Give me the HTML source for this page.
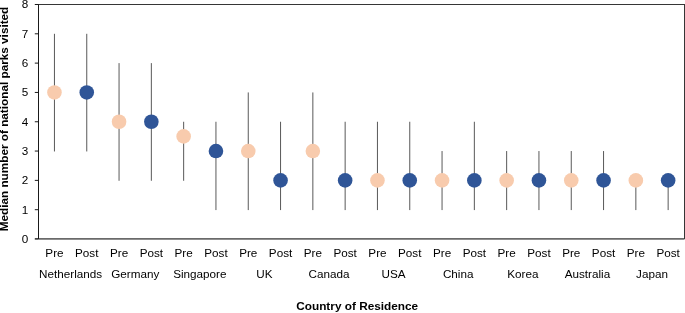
<!DOCTYPE html>
<html><head><meta charset="utf-8"><title>chart</title>
<style>
html,body{margin:0;padding:0;background:#fff;}
svg{display:block;font-family:"Liberation Sans",Arial,sans-serif;}
text{fill:#000;}
</style></head><body>
<svg width="685" height="313" viewBox="0 0 685 313">
<rect width="685" height="313" fill="#fff"/>

<line x1="54.45" x2="54.45" y1="33.81" y2="151.46" stroke="#595959" stroke-width="1"/>
<line x1="86.75" x2="86.75" y1="33.81" y2="151.46" stroke="#595959" stroke-width="1"/>
<line x1="119.05" x2="119.05" y1="63.12" y2="180.78" stroke="#595959" stroke-width="1"/>
<line x1="151.35" x2="151.35" y1="63.12" y2="180.78" stroke="#595959" stroke-width="1"/>
<line x1="183.65" x2="183.65" y1="121.75" y2="180.78" stroke="#595959" stroke-width="1"/>
<line x1="215.95" x2="215.95" y1="121.75" y2="210.09" stroke="#595959" stroke-width="1"/>
<line x1="248.25" x2="248.25" y1="92.44" y2="210.09" stroke="#595959" stroke-width="1"/>
<line x1="280.55" x2="280.55" y1="121.75" y2="210.09" stroke="#595959" stroke-width="1"/>
<line x1="312.85" x2="312.85" y1="92.44" y2="210.09" stroke="#595959" stroke-width="1"/>
<line x1="345.15" x2="345.15" y1="121.75" y2="210.09" stroke="#595959" stroke-width="1"/>
<line x1="377.45" x2="377.45" y1="121.75" y2="210.09" stroke="#595959" stroke-width="1"/>
<line x1="409.75" x2="409.75" y1="121.75" y2="210.09" stroke="#595959" stroke-width="1"/>
<line x1="442.05" x2="442.05" y1="151.06" y2="210.09" stroke="#595959" stroke-width="1"/>
<line x1="474.35" x2="474.35" y1="121.75" y2="210.09" stroke="#595959" stroke-width="1"/>
<line x1="506.65" x2="506.65" y1="151.06" y2="210.09" stroke="#595959" stroke-width="1"/>
<line x1="538.95" x2="538.95" y1="151.06" y2="210.09" stroke="#595959" stroke-width="1"/>
<line x1="571.25" x2="571.25" y1="151.06" y2="210.09" stroke="#595959" stroke-width="1"/>
<line x1="603.55" x2="603.55" y1="151.06" y2="210.09" stroke="#595959" stroke-width="1"/>
<line x1="635.85" x2="635.85" y1="180.38" y2="210.09" stroke="#595959" stroke-width="1"/>
<line x1="668.15" x2="668.15" y1="180.38" y2="210.09" stroke="#595959" stroke-width="1"/>
<line x1="38.5" x2="684.5" y1="238.85" y2="238.85" stroke="#6a6a6a" stroke-width="1.6"/>
<line x1="38.0" x2="685.0" y1="4.5" y2="4.5" stroke="#363636" stroke-width="1"/>
<line x1="684.5" x2="684.5" y1="4.5" y2="239.0" stroke="#363636" stroke-width="1"/>
<line x1="38.5" x2="38.5" y1="4.5" y2="239.0" stroke="#1a1a1a" stroke-width="1"/>
<line x1="34.8" x2="38.5" y1="238.9" y2="238.9" stroke="#1a1a1a" stroke-width="1.4"/>
<text x="28.3" y="242.85" font-size="11.7" text-anchor="end">0</text>
<line x1="34.8" x2="38.5" y1="209.69" y2="209.69" stroke="#1a1a1a" stroke-width="1"/>
<text x="28.3" y="213.54" font-size="11.7" text-anchor="end">1</text>
<line x1="34.8" x2="38.5" y1="180.38" y2="180.38" stroke="#1a1a1a" stroke-width="1"/>
<text x="28.3" y="184.22" font-size="11.7" text-anchor="end">2</text>
<line x1="34.8" x2="38.5" y1="151.06" y2="151.06" stroke="#1a1a1a" stroke-width="1"/>
<text x="28.3" y="154.91" font-size="11.7" text-anchor="end">3</text>
<line x1="34.8" x2="38.5" y1="121.75" y2="121.75" stroke="#1a1a1a" stroke-width="1"/>
<text x="28.3" y="125.60" font-size="11.7" text-anchor="end">4</text>
<line x1="34.8" x2="38.5" y1="92.44" y2="92.44" stroke="#1a1a1a" stroke-width="1"/>
<text x="28.3" y="96.29" font-size="11.7" text-anchor="end">5</text>
<line x1="34.8" x2="38.5" y1="63.12" y2="63.12" stroke="#1a1a1a" stroke-width="1"/>
<text x="28.3" y="66.97" font-size="11.7" text-anchor="end">6</text>
<line x1="34.8" x2="38.5" y1="33.81" y2="33.81" stroke="#1a1a1a" stroke-width="1"/>
<text x="28.3" y="37.66" font-size="11.7" text-anchor="end">7</text>
<line x1="34.8" x2="38.5" y1="4.5" y2="4.5" stroke="#1a1a1a" stroke-width="1"/>
<text x="28.3" y="8.35" font-size="11.7" text-anchor="end">8</text>
<circle cx="54.45" cy="92.44" r="7.3" fill="#F8CBAD"/>
<text x="54.45" y="256.8" font-size="11.7" text-anchor="middle">Pre</text>
<circle cx="86.75" cy="92.44" r="7.3" fill="#2F5597"/>
<text x="86.75" y="256.8" font-size="11.7" text-anchor="middle">Post</text>
<text x="70.60" y="278.1" font-size="11.7" text-anchor="middle">Netherlands</text>
<circle cx="119.05" cy="121.75" r="7.3" fill="#F8CBAD"/>
<text x="119.05" y="256.8" font-size="11.7" text-anchor="middle">Pre</text>
<circle cx="151.35" cy="121.75" r="7.3" fill="#2F5597"/>
<text x="151.35" y="256.8" font-size="11.7" text-anchor="middle">Post</text>
<text x="135.20" y="278.1" font-size="11.7" text-anchor="middle">Germany</text>
<circle cx="183.65" cy="136.41" r="7.3" fill="#F8CBAD"/>
<text x="183.65" y="256.8" font-size="11.7" text-anchor="middle">Pre</text>
<circle cx="215.95" cy="151.06" r="7.3" fill="#2F5597"/>
<text x="215.95" y="256.8" font-size="11.7" text-anchor="middle">Post</text>
<text x="199.80" y="278.1" font-size="11.7" text-anchor="middle">Singapore</text>
<circle cx="248.25" cy="151.06" r="7.3" fill="#F8CBAD"/>
<text x="248.25" y="256.8" font-size="11.7" text-anchor="middle">Pre</text>
<circle cx="280.55" cy="180.38" r="7.3" fill="#2F5597"/>
<text x="280.55" y="256.8" font-size="11.7" text-anchor="middle">Post</text>
<text x="264.40" y="278.1" font-size="11.7" text-anchor="middle">UK</text>
<circle cx="312.85" cy="151.06" r="7.3" fill="#F8CBAD"/>
<text x="312.85" y="256.8" font-size="11.7" text-anchor="middle">Pre</text>
<circle cx="345.15" cy="180.38" r="7.3" fill="#2F5597"/>
<text x="345.15" y="256.8" font-size="11.7" text-anchor="middle">Post</text>
<text x="329.00" y="278.1" font-size="11.7" text-anchor="middle">Canada</text>
<circle cx="377.45" cy="180.38" r="7.3" fill="#F8CBAD"/>
<text x="377.45" y="256.8" font-size="11.7" text-anchor="middle">Pre</text>
<circle cx="409.75" cy="180.38" r="7.3" fill="#2F5597"/>
<text x="409.75" y="256.8" font-size="11.7" text-anchor="middle">Post</text>
<text x="393.60" y="278.1" font-size="11.7" text-anchor="middle">USA</text>
<circle cx="442.05" cy="180.38" r="7.3" fill="#F8CBAD"/>
<text x="442.05" y="256.8" font-size="11.7" text-anchor="middle">Pre</text>
<circle cx="474.35" cy="180.38" r="7.3" fill="#2F5597"/>
<text x="474.35" y="256.8" font-size="11.7" text-anchor="middle">Post</text>
<text x="458.20" y="278.1" font-size="11.7" text-anchor="middle">China</text>
<circle cx="506.65" cy="180.38" r="7.3" fill="#F8CBAD"/>
<text x="506.65" y="256.8" font-size="11.7" text-anchor="middle">Pre</text>
<circle cx="538.95" cy="180.38" r="7.3" fill="#2F5597"/>
<text x="538.95" y="256.8" font-size="11.7" text-anchor="middle">Post</text>
<text x="522.80" y="278.1" font-size="11.7" text-anchor="middle">Korea</text>
<circle cx="571.25" cy="180.38" r="7.3" fill="#F8CBAD"/>
<text x="571.25" y="256.8" font-size="11.7" text-anchor="middle">Pre</text>
<circle cx="603.55" cy="180.38" r="7.3" fill="#2F5597"/>
<text x="603.55" y="256.8" font-size="11.7" text-anchor="middle">Post</text>
<text x="587.40" y="278.1" font-size="11.7" text-anchor="middle">Australia</text>
<circle cx="635.85" cy="180.38" r="7.3" fill="#F8CBAD"/>
<text x="635.85" y="256.8" font-size="11.7" text-anchor="middle">Pre</text>
<circle cx="668.15" cy="180.38" r="7.3" fill="#2F5597"/>
<text x="668.15" y="256.8" font-size="11.7" text-anchor="middle">Post</text>
<text x="652.00" y="278.1" font-size="11.7" text-anchor="middle">Japan</text>
<text x="357.2" y="310.4" font-size="11.8" font-weight="bold" text-anchor="middle">Country of Residence</text>
<text transform="translate(8.3,119) rotate(-90)" font-size="11.75" font-weight="bold" text-anchor="middle">Median number of national parks visited</text>
</svg></body></html>
